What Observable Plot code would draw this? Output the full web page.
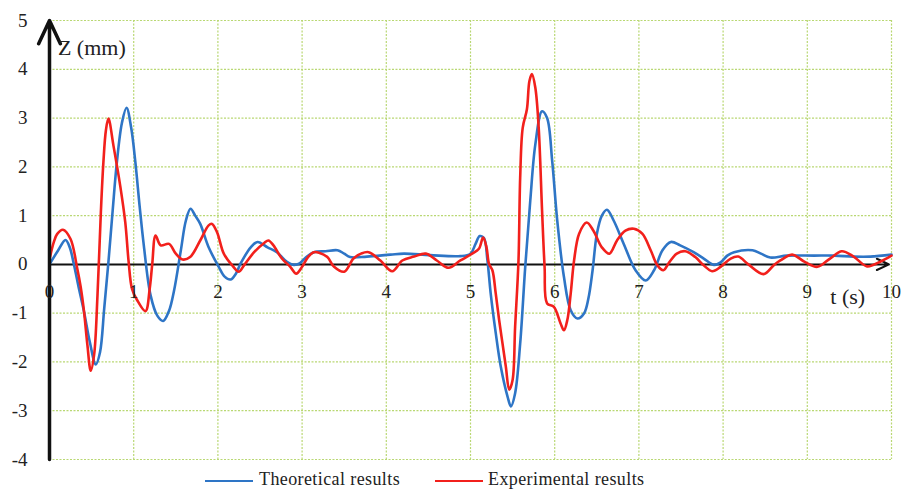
<!DOCTYPE html>
<html>
<head>
<meta charset="utf-8">
<script src="https://cdn.jsdelivr.net/npm/d3@7"></script>
<script src="https://cdn.jsdelivr.net/npm/@observablehq/plot@0.6"></script>
<style>
  html, body { margin: 0; padding: 0; background: #fff; }
  #chart { width: 906px; }
  #legend { position: relative; width: 906px; height: 20px; font-family: "Liberation Serif", "Times New Roman", serif; font-size: 18px; letter-spacing: 0.4px; color: #222; }
  #legend .sw { position: absolute; top: 10px; height: 0; border-top: 2.5px solid; }
  #legend .lb { position: absolute; top: -1px; white-space: nowrap; }
</style>
</head>
<body>
<div id="chart"></div>
<div id="legend"></div>
<script>
// ---- data ----
const theoreticalT = [0,0.1,0.19,0.24,0.29,0.35,0.41,0.48,0.55,0.6,0.65,0.7,0.75,0.8,0.86,0.915,0.97,1.02,1.07,1.12,1.2,1.28,1.35,1.42,1.48,1.56,1.62,1.675,1.73,1.79,1.89,2.01,2.08,2.15,2.21,2.27,2.39,2.47,2.59,2.7,2.82,2.9,2.97,3.05,3.14,3.28,3.42,3.5,3.57,3.77,4.05,4.21,4.52,4.88,5.0,5.06,5.11,5.16,5.2,5.24,5.3,5.36,5.44,5.48,5.53,5.59,5.65,5.71,5.77,5.85,5.91,5.97,6.03,6.11,6.19,6.27,6.35,6.4,6.45,6.5,6.56,6.62,6.7,6.82,6.96,7.08,7.18,7.28,7.38,7.49,7.65,7.77,7.89,7.97,8.05,8.13,8.35,8.45,8.56,8.76,9.08,9.32,9.55,9.75,10.0];
const theoreticalZ = [0,0.28,0.5,0.35,0.0,-0.5,-0.97,-1.6,-2.05,-1.8,-0.9,0.05,1.1,2.09,2.9,3.21,2.8,2.09,1.2,0.39,-0.63,-1.05,-1.16,-0.95,-0.53,0.29,0.9,1.14,1.0,0.83,0.35,-0.05,-0.25,-0.31,-0.2,0.02,0.35,0.46,0.35,0.25,0.05,-0.01,0.02,0.15,0.25,0.27,0.29,0.22,0.15,0.16,0.2,0.22,0.19,0.17,0.22,0.42,0.58,0.54,0.1,-0.6,-1.41,-2.1,-2.71,-2.91,-2.64,-1.62,-0.05,1.31,2.46,3.14,3.0,2.12,0.9,-0.26,-0.94,-1.11,-1.0,-0.7,-0.12,0.62,1.0,1.12,0.9,0.42,-0.12,-0.33,-0.12,0.29,0.46,0.39,0.25,0.12,-0.01,0.04,0.18,0.25,0.29,0.22,0.14,0.18,0.18,0.18,0.16,0.16,0.2];
const experimentalT = [0,0.05,0.09,0.16,0.25,0.33,0.37,0.41,0.45,0.49,0.53,0.57,0.61,0.64,0.67,0.7,0.76,0.84,0.9,0.94,0.98,1.04,1.14,1.19,1.22,1.26,1.32,1.42,1.5,1.58,1.67,1.79,1.89,1.93,1.99,2.07,2.17,2.25,2.31,2.43,2.55,2.6,2.66,2.76,2.86,2.93,3.0,3.07,3.14,3.2,3.3,3.38,3.5,3.61,3.7,3.79,3.93,4.07,4.19,4.33,4.47,4.6,4.74,4.88,5.02,5.1,5.15,5.19,5.22,5.26,5.3,5.34,5.38,5.42,5.46,5.5,5.53,5.57,5.59,5.62,5.67,5.7,5.73,5.77,5.81,5.85,5.88,5.91,5.99,6.07,6.11,6.15,6.19,6.23,6.29,6.38,6.46,6.56,6.65,6.74,6.84,6.94,7.04,7.14,7.22,7.29,7.36,7.45,7.55,7.67,7.77,7.87,7.97,8.09,8.18,8.3,8.48,8.6,8.68,8.82,8.97,9.12,9.27,9.41,9.55,9.71,9.87,10.0];
const experimentalZ = [0.1,0.45,0.62,0.71,0.52,-0.09,-0.46,-0.97,-1.65,-2.18,-1.85,-0.63,1.07,2.09,2.75,2.99,2.43,1.61,0.86,0.05,-0.5,-0.73,-0.96,-0.5,0.0,0.59,0.39,0.42,0.22,0.1,0.15,0.49,0.8,0.83,0.66,0.22,-0.02,-0.15,-0.02,0.25,0.44,0.49,0.39,0.12,-0.05,-0.19,-0.05,0.15,0.25,0.24,0.15,-0.05,-0.15,0.12,0.22,0.25,0.08,-0.14,0.08,0.16,0.22,0.08,-0.07,0.08,0.22,0.32,0.55,0.35,0.01,-0.12,-0.6,-1.14,-1.62,-2.1,-2.57,-2.37,-1.28,0.08,1.78,2.8,3.18,3.76,3.9,3.62,2.8,1.1,-0.05,-0.8,-0.87,-1.21,-1.35,-1.14,-0.6,0.08,0.63,0.86,0.69,0.35,0.22,0.49,0.69,0.73,0.63,0.29,-0.02,-0.12,0.04,0.22,0.27,0.15,-0.02,-0.14,-0.05,0.12,0.16,0.0,-0.2,-0.02,0.08,0.2,0.05,-0.05,0.12,0.27,0.16,-0.04,0.06,0.18];
const xTicks = [0,1,2,3,4,5,6,7,8,9,10];
const yTicks = [-4,-3,-2,-1,0,1,2,3,4,5];
const seriesNames = ["Theoretical results", "Experimental results"];
const seriesColors = ["#2e75c6", "#f2201c"];
const xLabel = "t (s)";
const yLabel = "Z (mm)";

// ---- build ----
const theo = theoreticalT.map((t, i) => ({t, z: theoreticalZ[i]}));
const expe = experimentalT.map((t, i) => ({t, z: experimentalZ[i]}));
const font = "Liberation Serif";
const gridColor = "#b9d873";

const chart = Plot.plot({
  width: 906,
  height: 470,
  marginLeft: 49,
  marginRight: 15,
  marginTop: 20,
  marginBottom: 11,
  style: {fontFamily: font, background: "#fff"},
  x: {domain: [0, 10], axis: null},
  y: {domain: [-4, 5], axis: null},
  marks: [
    Plot.ruleX(xTicks.filter(d => d !== 0), {x: d => d, stroke: gridColor, strokeWidth: 1.2, strokeDasharray: "2,1.5"}),
    Plot.ruleY(yTicks.filter(d => d !== 0), {y: d => d, stroke: gridColor, strokeWidth: 1.2, strokeDasharray: "2,1.5"}),
    Plot.arrow([{x1: 0, y1: 0, x2: 9.97, y2: 0}], {x1: "x1", y1: "y1", x2: "x2", y2: "y2", stroke: "#111", strokeWidth: 2, headLength: 10, headAngle: 50}),
    Plot.line(theo, {x: "t", y: "z", stroke: seriesColors[0], strokeWidth: 2.6, curve: "catmull-rom"}),
    Plot.line(expe, {x: "t", y: "z", stroke: seriesColors[1], strokeWidth: 2.6, curve: "catmull-rom"}),
    Plot.arrow([{x1: 0, y1: -4, x2: 0, y2: 5}], {x1: "x1", y1: "y1", x2: "x2", y2: "y2", stroke: "#111", strokeWidth: 3.5, headLength: 11, headAngle: 50}),
    Plot.text(xTicks, {x: d => d, y: () => 0, text: d => String(d), dy: 28, fontSize: 19, fill: "#222"}),
    Plot.text(yTicks, {x: () => 0, y: d => d, text: d => String(d), dx: -22, textAnchor: "end", fontSize: 19, fill: "#222"}),
    Plot.text([xLabel], {x: () => 9.48, y: () => 0, text: d => d, dy: 33, fontSize: 22, fill: "#222"}),
    Plot.text([yLabel], {x: () => 0.1, y: () => 4.43, text: d => d, textAnchor: "start", fontSize: 22, fill: "#222"})
  ]
});
document.getElementById("chart").appendChild(chart);

// ---- legend ----
const legend = document.getElementById("legend");
const legendPos = [{sw: 205, swW: 48, lb: 259}, {sw: 435, swW: 48, lb: 488}];
seriesNames.forEach((name, i) => {
  const sw = document.createElement("div");
  sw.className = "sw";
  sw.style.left = legendPos[i].sw + "px";
  sw.style.width = legendPos[i].swW + "px";
  sw.style.borderTopColor = seriesColors[i];
  legend.appendChild(sw);
  const lb = document.createElement("span");
  lb.className = "lb";
  lb.style.left = legendPos[i].lb + "px";
  lb.textContent = name;
  legend.appendChild(lb);
});
</script>
</body>
</html>
